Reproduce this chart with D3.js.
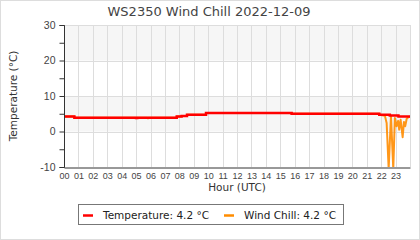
<!DOCTYPE html>
<html>
<head>
<meta charset="utf-8">
<script src="https://cdn.jsdelivr.net/npm/d3@7"></script>
<style>
body{margin:0;background:#fff;}
svg{display:block;font-family:"DejaVu Sans",sans-serif;}
</style>
</head>
<body>
<svg width="420" height="240"></svg>
<script>
var title='WS2350 Wind Chill 2022-12-09';
var hourTicks=['00','01','02','03','04','05','06','07','08','09','10','11','12','13','14','15','16','17','18','19','20','21','22','23'];
var tempTicks=[30,20,10,0,-10];
var minorTicks=[25,15,5,-5];
var shadedBands=[[20,30],[0,10]];

// hours (decimal UTC) and readings
var tempHours=[0,0.72,5.0,5.08,7.82,8.16,8.53,9.85,15.79,21.87,22.6,23.2,24];
var tempValues=[4.2,3.9,3.8,3.9,4.2,4.4,4.7,5.2,5.0,4.7,4.5,4.2,4.2];

var chillHours=[0,0.72,0.72,5.78,5.78,5.86,5.86,7.82,7.82,8.16,8.16,8.53,8.53,9.85,9.85,15.79,15.79,21.87,21.87,22.26,
  22.38,22.52,22.68,22.84,22.95,23.07,23.18,23.25,23.35,23.49,23.58,23.67,23.77,23.88,24];
var chillValues=[4.2,4.2,3.9,3.9,3.7,3.7,3.9,3.9,4.2,4.2,4.4,4.4,4.7,4.7,5.2,5.2,5.0,5.0,4.7,4.4,
  2.4,-10.5,4.4,-10.5,3.8,1.5,3.0,0.5,3.3,-1.6,2.7,1.5,3.6,4.0,4.2];

var legendItems=[
  {label:'Temperature: 4.2 °C',color:'#ff0000'},
  {label:'Wind Chill: 4.2 °C',color:'#ff8c00'}
];

var drawGraph=function(){
  let svg=d3.select('svg');
  let margin={top:25,bottom:73,left:64,right:10};
  let plotWidth=420-margin.left-margin.right;
  let plotHeight=240-margin.top-margin.bottom;

  svg.append('rect')
    .attr('x',0.5).attr('y',0.5).attr('width',419).attr('height',239)
    .attr('fill','none').attr('stroke','#ddd');

  let x=d3.scaleLinear().domain([0,24]).range([0,plotWidth]);
  let y=d3.scaleLinear().domain([-10,30]).range([plotHeight,0]);

  let plot=svg.append('g').attr('transform','translate('+margin.left+','+margin.top+')');

  plot.selectAll('rect.band').data(shadedBands).enter().append('rect')
    .attr('class','band')
    .attr('x',0).attr('width',plotWidth)
    .attr('y',function(d){return y(d[1]);})
    .attr('height',function(d){return y(d[0])-y(d[1]);})
    .attr('fill','#f6f6f6');

  plot.selectAll('line.vgrid').data(d3.range(1,25)).enter().append('line')
    .attr('class','vgrid')
    .attr('x1',function(d){return Math.round(x(d))+0.5;})
    .attr('x2',function(d){return Math.round(x(d))+0.5;})
    .attr('y1',0).attr('y2',plotHeight)
    .attr('stroke','#ddd');

  plot.selectAll('line.hgrid').data(tempTicks.slice(0,4)).enter().append('line')
    .attr('class','hgrid')
    .attr('x1',0).attr('x2',plotWidth)
    .attr('y1',function(d){return Math.round(y(d))+0.5;})
    .attr('y2',function(d){return Math.round(y(d))+0.5;})
    .attr('stroke','#ddd');

  let clip=svg.append('defs').append('clipPath').attr('id','clip');
  clip.append('rect').attr('width',plotWidth).attr('height',plotHeight);
  let lines=plot.append('g').attr('clip-path','url(#clip)');

  let chillLine=d3.line()
    .x(function(d,i){return x(chillHours[i]);})
    .y(function(d){return y(d);});
  lines.append('path')
    .attr('d',chillLine(chillValues))
    .attr('fill','none').attr('stroke','#ff8c00').attr('stroke-width',2)
    .attr('stroke-opacity',0.9).attr('stroke-linejoin','round');

  let tempLine=d3.line()
    .x(function(d,i){return x(tempHours[i]);})
    .y(function(d){return y(d);})
    .curve(d3.curveStepAfter);
  lines.append('path')
    .attr('d',tempLine(tempValues))
    .attr('fill','none').attr('stroke','#ff0000').attr('stroke-width',2.5);

  let yAxis=d3.axisLeft(y).tickValues(tempTicks.concat(minorTicks)).tickSize(5).tickPadding(4)
    .tickFormat(function(d){return tempTicks.indexOf(d)>=0?d:'';});
  let yGroup=plot.append('g').attr('transform','translate(0.5,0)').call(yAxis);
  yGroup.select('.domain').attr('stroke','#333').attr('d','M-5,0.5H0V'+(plotHeight+0.5)+'H-5');
  yGroup.selectAll('.tick line').attr('stroke','#333');
  yGroup.selectAll('text').attr('fill','#444').style('font-size','10.5px');

  let xAxis=d3.axisBottom(x).tickValues(d3.range(0,24)).tickSize(0).tickPadding(5)
    .tickFormat(function(d){return hourTicks[d];});
  let xGroup=plot.append('g').attr('transform','translate(0,'+(plotHeight+0.5)+')').call(xAxis);
  xGroup.select('.domain').attr('stroke','#333');
  xGroup.selectAll('text').attr('fill','#444').style('font-size','9px');

  svg.append('text').text(title)
    .attr('x',209).attr('y',16).attr('text-anchor','middle')
    .attr('fill','#444').style('font-size','13px');

  svg.append('text').text('Temperature (°C)')
    .attr('text-anchor','middle')
    .attr('transform','translate(17,'+(margin.top+plotHeight/2)+')rotate(-90)')
    .attr('fill','#333').style('font-size','10.5px');

  svg.append('text').text('Hour (UTC)')
    .attr('x',margin.left+plotWidth/2).attr('y',191).attr('text-anchor','middle')
    .attr('fill','#333').style('font-size','10.5px');

  let legend=svg.append('g');
  legend.append('rect')
    .attr('x',78.5).attr('y',204.5).attr('width',265).attr('height',20)
    .attr('fill','#fff').attr('stroke','#777');
  let offsets=[83,224];
  let item=legend.selectAll('g.item').data(legendItems).enter().append('g')
    .attr('class','item')
    .attr('transform',function(d,i){return 'translate('+offsets[i]+',215)';});
  item.append('line').attr('x1',0).attr('x2',10).attr('y1',0.5).attr('y2',0.5)
    .attr('stroke',function(d){return d.color;}).attr('stroke-width',2.5);
  item.append('text').text(function(d){return d.label;})
    .attr('x',20).attr('y',4).attr('fill','#222').style('font-size','10.5px');
};

drawGraph();
</script>
</body>
</html>
